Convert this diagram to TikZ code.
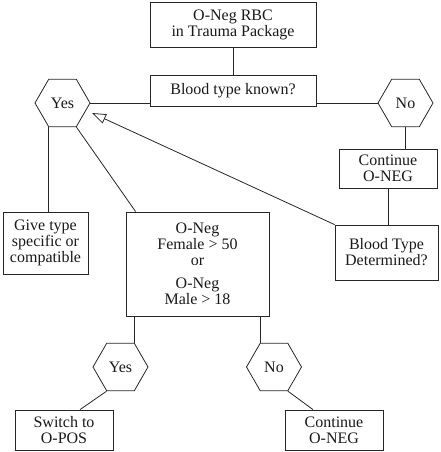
\documentclass[tikz,border=0pt]{standalone}
\usepackage{fontspec}
\setmainfont{Liberation Serif}
\usetikzlibrary{shapes.geometric,arrows.meta}
\begin{document}
\begin{tikzpicture}[x=1pt,y=-1pt,
  every node/.style={font=\fontsize{16}{16}\selectfont, text=black!90},
  box/.style={draw=black!85, line width=0.8pt, align=center, inner sep=0pt},
  hexa/.style={draw=black!85, line width=0.8pt, regular polygon, regular polygon sides=6,
    minimum size=55pt, inner sep=0pt},
  conn/.style={draw=black!85, line width=0.8pt},
  openarrow/.style={conn, -{Triangle[open,length=14pt,width=10pt]}}]
\useasboundingbox (0,0) rectangle (440,452);
% boxes
\node[box, minimum width=166pt, minimum height=45pt] (top) at (233,24.5) {O-Neg RBC\\in Trauma Package};
\node[box, minimum width=166pt, minimum height=31pt] (known) at (233,90.5) {Blood type known?};
\node[hexa] (yes1) at (62.5,103) {Yes};
\node[hexa] (no1) at (405.5,103) {No};
\node[box, minimum width=98pt, minimum height=39pt] (cont1) at (388,168.5) {Continue\\O-NEG};
\node[box, minimum width=103pt, minimum height=55pt] (det) at (386.5,252.5) {Blood Type\\Determined?};
\node[box, minimum width=85pt, minimum height=62pt] (give) at (45.5,243) {Give type\\specific or\\compatible};
\node[box, minimum width=143pt, minimum height=104pt] (oneg) at (197.5,264) {O-Neg\\Female > 50\\or\\[7pt]O-Neg\\Male > 18};
\node[hexa] (yes2) at (120.5,367) {Yes};
\node[hexa] (no2) at (274,367) {No};
\node[box, minimum width=98pt, minimum height=40pt] (switch) at (64,430) {Switch to\\O-POS};
\node[box, minimum width=98pt, minimum height=40pt] (cont2) at (334,430) {Continue\\O-NEG};
\coordinate (tip) at (92,113);
% connectors
\draw[conn] (top.south) -- (known.north);
\draw[conn] (yes1.0) -- (yes1.0 -| known.west);
\draw[conn] (known.east |- no1.180) -- (no1.180);
\draw[conn] (no1.270) -- (no1.270 |- cont1.north);
\draw[conn] (cont1.south) -- (cont1.south |- det.north);
\draw[openarrow] (det.north west) -- (tip);
\draw[conn] (yes1.240) -- (yes1.240 |- give.north);
\draw[conn] (yes1.300) -- ([xshift=10pt]oneg.north west);
\draw[conn] (yes2.60) -- (yes2.60 |- oneg.south);
\draw[conn] (no2.120) -- (no2.120 |- oneg.south);
\draw[conn] (yes2.240) -- ([xshift=16pt]switch.north);
\draw[conn] (no2.300) -- ([xshift=-21pt]cont2.north);
\end{tikzpicture}
\end{document}
